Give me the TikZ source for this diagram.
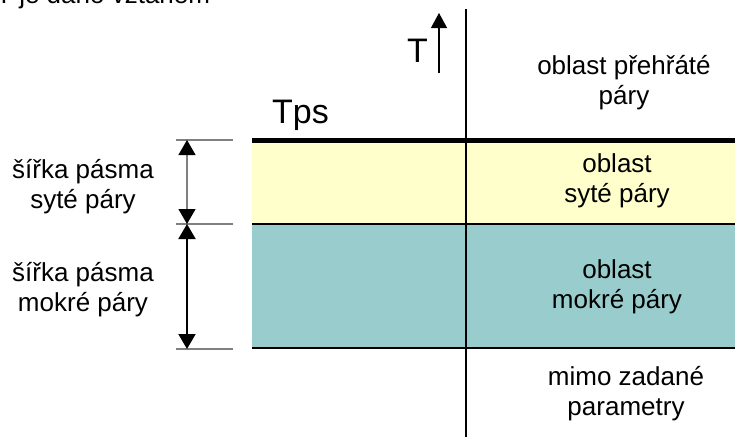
\documentclass[tikz,border=0pt]{standalone}
\usepackage{fontspec}
\setmainfont{Liberation Sans}
\usetikzlibrary{arrows.meta}
\definecolor{sytaC}{HTML}{FFFFCC}
\definecolor{mokraC}{HTML}{99CCCC}
\newcommand{\txt}{\fontsize{26}{30}\selectfont}
\newcommand{\velky}{\fontsize{34}{38}\selectfont}

\begin{document}
\begin{tikzpicture}[x=1pt, y=-1pt,
    lbl/.style={font=\txt, align=center, inner sep=0pt},
    dim/.style={{Triangle[length=15pt,width=17pt,color=black]}-{Triangle[length=15pt,width=17pt,color=black]}},
    mez/.style={draw=gray, line width=1.5pt}]
         \useasboundingbox (0,0) rectangle (735,439);
         \begin{scope}
         \clip (0,0) rectangle (735,439);
         \node(uvod) [lbl, anchor=base west] at (-4,4) {T je dáno vztahem};
         \end{scope}
         \fill[sytaC]  (252,140) rectangle (735,224);
         \fill[mokraC] (252,224) rectangle (735,348);
         \draw[line width=5pt] (252,140) -- (735,140);
         \draw[line width=2pt] (252,224) -- (735,224);
         \draw[line width=2pt] (252,348) -- (735,348);
         \draw[line width=1.3pt] (466,9) -- (466,437);
         \coordinate(T0) at (439,73);
         \coordinate(T1) at (439,13);
         \draw[line width=1.3pt, -{Triangle[length=15pt,width=16pt]}] (T0) -- (T1);
         \node(T) [font=\velky, anchor=base west, inner sep=0pt] at (407,62) {T};
         \node(Tps) [font=\velky, anchor=base west, inner sep=0pt] at (272,123) {Tps};
         \draw[mez] (176,140) -- (233,140);
         \draw[mez] (176,224) -- (233,224);
         \draw[mez] (176,349) -- (233,349);
         \coordinate(d1) at (187,140);
         \coordinate(d2) at (187,224);
         \coordinate(d3) at (187,349);
         \draw[dim, draw=gray, line width=1.2pt] (d1) -- (d2);
         \draw[dim, line width=2pt] (d2) -- (d3);
         \node(prehrata) [lbl] at (624,83)  {oblast přehřáté\\páry};
         \node(syta)     [lbl] at (617,181) {oblast\\syté páry};
         \node(mokra)    [lbl] at (617,287) {oblast\\mokré páry};
         \node(mimo)     [lbl] at (626,394) {mimo zadané\\parametry};
         \node(sirkaS)   [lbl] at (83,187)  {šířka pásma\\syté páry};
         \node(sirkaM)   [lbl] at (83,290)  {šířka pásma\\mokré páry};
     \end{tikzpicture}
\end{document}
